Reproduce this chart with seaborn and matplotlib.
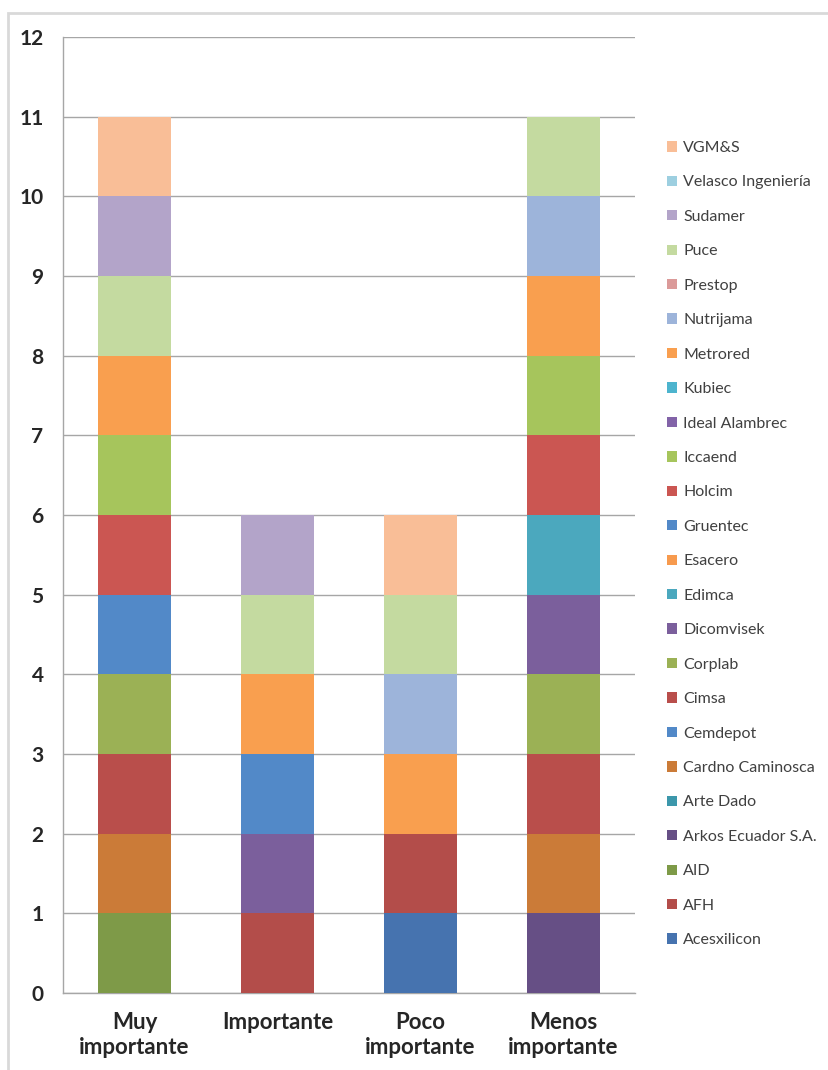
import numpy as np
import pandas as pd
import matplotlib
matplotlib.use("Agg")
import matplotlib.pyplot as plt
from matplotlib.patches import Patch, Rectangle
import seaborn as sns

categories = ["Muy\nimportante", "Importante", "Poco\nimportante", "Menos\nimportante"]

companies = ["Acesxilicon", "AFH", "AID", "Arkos Ecuador S.A.", "Arte Dado",
             "Cardno Caminosca", "Cemdepot", "Cimsa", "Corplab", "Dicomvisek",
             "Edimca", "Esacero", "Gruentec", "Holcim", "Iccaend", "Ideal Alambrec",
             "Kubiec", "Metrored", "Nutrijama", "Prestop", "Puce", "Sudamer",
             "Velasco Ingeniería", "VGM&S"]

# one value per company, same order as above
muy_importante   = [0, 0, 1, 0, 0, 1, 0, 1, 1, 0, 0, 0, 1, 1, 1, 0, 0, 1, 0, 0, 1, 1, 0, 1]
importante       = [0, 1, 0, 0, 0, 0, 0, 0, 0, 1, 0, 0, 1, 0, 0, 0, 0, 1, 0, 0, 1, 1, 0, 0]
poco_importante  = [1, 1, 0, 0, 0, 0, 0, 0, 0, 0, 0, 0, 0, 0, 0, 0, 0, 1, 1, 0, 1, 0, 0, 1]
menos_importante = [0, 0, 0, 1, 0, 1, 0, 1, 1, 1, 1, 0, 0, 1, 1, 0, 0, 1, 1, 0, 1, 0, 0, 0]

colors = ["#4673AF", "#B34D4A", "#7E9A48", "#664F85", "#3C97AB",
          "#CB7B38", "#5289C8", "#B94E4B", "#9BB155", "#7B5F9C",
          "#4BA8BE", "#F79A4E", "#5289C8", "#CB5652", "#A6C55C", "#8263A8",
          "#4DB4CE", "#F99F4F", "#9DB4DA", "#DB9A99", "#C4DAA0", "#B3A4C9",
          "#9DCFE0", "#F9BE97"]

df = pd.DataFrame({categories[0]: muy_importante, categories[1]: importante,
                   categories[2]: poco_importante, categories[3]: menos_importante},
                  index=companies)
cum = df.cumsum(axis=0)

sns.set_style("white")
plt.rcParams["font.family"] = ["Lato", "DejaVu Sans"]

fig = plt.figure(figsize=(8.29, 10.70), dpi=100)
ax = fig.add_axes([63 / 829, 77 / 1070, (635 - 63) / 829, (993 - 37) / 1070])

# stacked bars: draw cumulative totals from the top series down
for i in range(len(companies) - 1, -1, -1):
    sns.barplot(x=categories, y=cum.iloc[i].values, color=colors[i],
                width=0.51, linewidth=0, saturation=1, ax=ax, zorder=3)

ax.set_ylim(0, 12)
ax.set_xlim(-0.5, 3.5)
ax.set_yticks(range(0, 13))
ax.yaxis.grid(True, color="#A6A6A6", linewidth=1, zorder=0)
ax.set_axisbelow(True)
for s in ["top", "right"]:
    ax.spines[s].set_visible(False)
for s in ["left", "bottom"]:
    ax.spines[s].set_color("#A6A6A6")
    ax.spines[s].set_linewidth(1)
ax.tick_params(axis="both", length=0, colors="#262626")
ax.tick_params(axis="y", pad=14, labelsize=15)
ax.tick_params(axis="x", pad=14, labelsize=16)
for lab in ax.get_yticklabels() + ax.get_xticklabels():
    lab.set_fontweight("bold")
ax.set_xlabel("")
ax.set_ylabel("")

handles = [Patch(facecolor=colors[i], edgecolor="none", label=companies[i])
           for i in range(len(companies) - 1, -1, -1)]
fig.legend(handles=handles, loc="upper left", bbox_to_anchor=(667 / 829, 1 - 141 / 1070),
           frameon=False, fontsize=11.5, handlelength=0.62, handleheight=0.62,
           handletextpad=0.4, labelspacing=1.28, borderpad=0, borderaxespad=0,
           labelcolor="#404040")

fig.patches.append(Rectangle((8 / 829, -0.05), 1.1, 1.05 - 13 / 1070, transform=fig.transFigure,
                             fill=False, edgecolor="#D9D9D9", linewidth=2))

fig.savefig("out.png", dpi=100)
